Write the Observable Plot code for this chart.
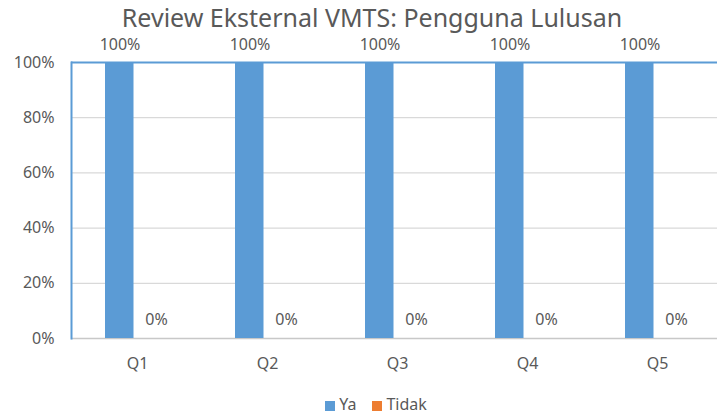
<!DOCTYPE html>
<html><head><meta charset="utf-8">
<script src="https://cdn.jsdelivr.net/npm/d3@7"></script>
<script src="https://cdn.jsdelivr.net/npm/@observablehq/plot@0.6"></script>
<style>
body{margin:0;background:#fff;font-family:"Noto Sans","Open Sans",sans-serif;}
#wrap{position:relative;width:717px;height:417px;overflow:hidden;}
#title{position:absolute;left:0;width:717px;padding-left:27px;box-sizing:border-box;top:0px;text-align:center;font-size:25px;line-height:34px;color:#595959;white-space:nowrap;}
#legend{position:absolute;left:0;width:717px;top:393px;text-align:center;font-size:16px;line-height:22px;color:#595959;padding-left:35px;box-sizing:border-box;}
#legend span.sw{display:inline-block;width:10px;height:10px;margin-right:4px;vertical-align:-1px;}
#legend span.it{margin:0 8px;}
</style></head>
<body><div id="wrap"><div id="title">Review Eksternal VMTS: Pengguna Lulusan</div><div id="chart"></div><div id="legend"></div></div>
<script>
const categories = ["Q1","Q2","Q3","Q4","Q5"];
const seriesNames = ["Ya","Tidak"];
const ya = [1,1,1,1,1];
const tidak = [0,0,0,0,0];
const yTicks = [0,0.2,0.4,0.6,0.8,1];
const colors = ["#5B9BD5","#ED7D31"];

const yaData = categories.map((q,i)=>({q, series:"Ya", value: ya[i]}));
const tidakData = categories.map((q,i)=>({q, series:"Tidak", value: tidak[i]}));
const fmt = d3.format(".0%");
const txt = "#595959";

const plot = Plot.plot({
  width: 717, height: 417,
  marginLeft: 71, marginRight: 0, marginTop: 62, marginBottom: 79,
  style: {fontFamily: '"Noto Sans","Open Sans",sans-serif', fontSize: "16px", color: txt, background: "#fff"},
  x: {domain: categories, range: [71, 723.5], padding: 0, tickSize: 0, tickPadding: 19, label: null},
  y: {domain: [0,1], ticks: yTicks, tickFormat: fmt, tickSize: 0, tickPadding: 17, label: null},
  color: {domain: seriesNames, range: colors},
  marks: [
    Plot.ruleY(yTicks.filter(d=>d>0 && d<1), {stroke: "#d9d9d9", strokeWidth: 1.2}),
    Plot.ruleY([0], {stroke: "#c8c8c8", strokeWidth: 1.5}),
    Plot.barY(yaData, {x: "q", y: "value", fill: "series", insetLeft: 33, insetRight: 68.5}),
    Plot.barY(tidakData, {x: "q", y: "value", fill: "series", insetLeft: 70, insetRight: 31.5}),
    Plot.ruleY([1], {stroke: "#5B9BD5", strokeWidth: 2}),
    Plot.frame({anchor: "left", stroke: "#5B9BD5", strokeWidth: 2}),
    Plot.text(yaData, {x: "q", y: "value", text: d=>fmt(d.value), dx: -17.5, dy: -18, fill: txt, fontSize: 16}),
    Plot.text(tidakData, {x: "q", y: "value", text: d=>fmt(d.value), dx: 19, dy: -19, fill: txt, fontSize: 16})
  ]
});
document.getElementById("chart").appendChild(plot);

const leg = document.getElementById("legend");
seriesNames.forEach((s,i)=>{
  const it = document.createElement("span"); it.className="it";
  const sw = document.createElement("span"); sw.className="sw"; sw.style.background = colors[i];
  it.appendChild(sw); it.appendChild(document.createTextNode(s));
  leg.appendChild(it);
});
</script></body></html>
